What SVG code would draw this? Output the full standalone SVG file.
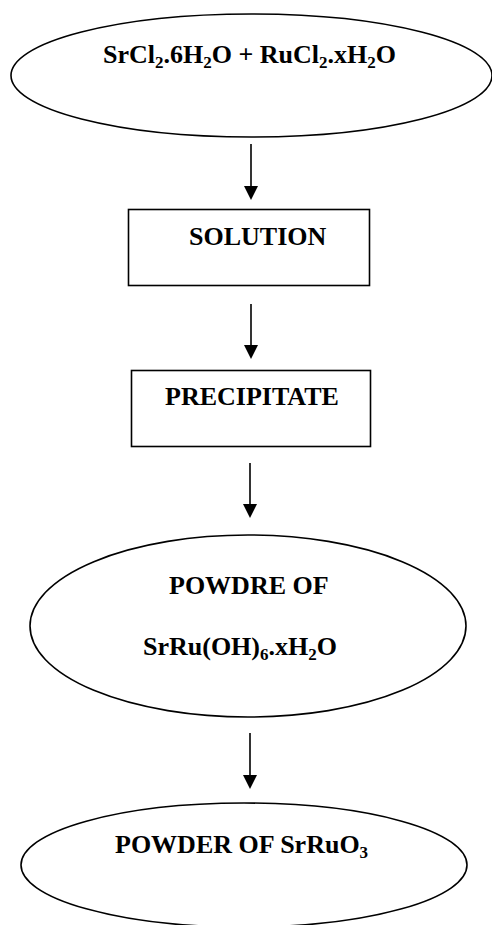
<svg xmlns="http://www.w3.org/2000/svg" width="492" height="925" viewBox="0 0 492 925">
<defs>
<style>
.shape{fill:none;stroke:#000;stroke-width:1.6}
.lbl{font-family:"Liberation Serif","Times New Roman",serif;font-weight:bold;font-size:26px;fill:#000}
.sub{font-size:17px}
.conn line{stroke:#000;stroke-width:1.6}
.conn polygon{fill:#000}
</style>
</defs>
<rect width="492" height="925" fill="#fff"/>
<g id="n1">
<ellipse class="shape" cx="251.5" cy="75.5" rx="240.5" ry="61.5"/>
<text class="lbl" x="103" y="63">SrCl<tspan class="sub" dy="5">2</tspan><tspan dy="-5">.6H</tspan><tspan class="sub" dy="5">2</tspan><tspan dy="-5">O + RuCl</tspan><tspan class="sub" dy="5">2</tspan><tspan dy="-5">.xH</tspan><tspan class="sub" dy="5">2</tspan><tspan dy="-5">O</tspan></text>
</g>
<g id="n2">
<rect class="shape" x="128.5" y="209.5" width="241" height="76"/>
<text class="lbl" x="189" y="245">SOLUTION</text>
</g>
<g id="n3">
<rect class="shape" x="131.5" y="370.5" width="239" height="76"/>
<text class="lbl" x="165" y="405">PRECIPITATE</text>
</g>
<g id="n4">
<ellipse class="shape" cx="248" cy="626" rx="218" ry="91"/>
<text class="lbl" x="169" y="594">POWDRE OF</text>
<text class="lbl" x="143" y="655">SrRu(OH)<tspan class="sub" dy="5">6</tspan><tspan dy="-5">.xH</tspan><tspan class="sub" dy="5">2</tspan><tspan dy="-5">O</tspan></text>
</g>
<g id="n5">
<ellipse class="shape" cx="244" cy="865" rx="223" ry="62"/>
<text class="lbl" x="115" y="853">POWDER OF SrRuO<tspan class="sub" dy="5">3</tspan></text>
</g>
<g id="connectors" class="conn">
<line x1="251" y1="144" x2="251" y2="187"/>
<polygon points="244,186 258,186 251,200"/>
<line x1="251" y1="304" x2="251" y2="346"/>
<polygon points="244,345 258,345 251,359"/>
<line x1="250" y1="463" x2="250" y2="505"/>
<polygon points="243,504 257,504 250,518"/>
<line x1="250" y1="733" x2="250" y2="776"/>
<polygon points="243,775 257,775 250,789"/>
</g>
</svg>
